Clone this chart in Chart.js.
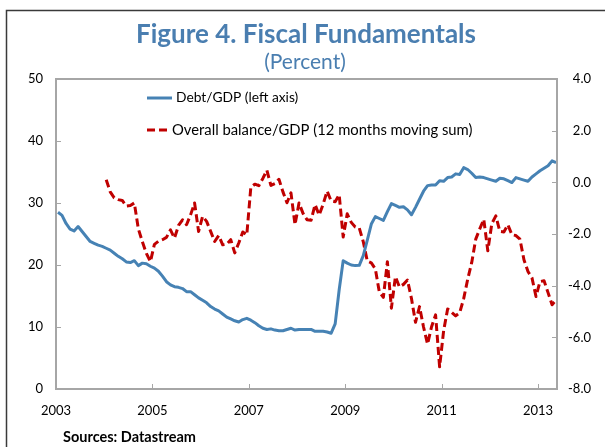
<!DOCTYPE html>
<html>
<head>
<meta charset="utf-8">
<script src="https://cdn.jsdelivr.net/npm/chart.js@4/dist/chart.umd.min.js"></script>
<style>
  html, body { margin: 0; padding: 0; background: #fff; }
  #wrap { width: 605px; height: 447px; position: relative; }
</style>
</head>
<body>
<div id="wrap"><canvas id="c" width="605" height="447"></canvas></div>
<script>
// Monthly series, Debt/GDP from Jan 2003, balance from Jan 2004
const debtStartYear = 2003;
const balanceStartYear = 2004;
const tickYears = [2003, 2005, 2007, 2009, 2011, 2013];
const leftTicks = [0, 10, 20, 30, 40, 50];
const rightTicks = [-8, -6, -4, -2, 0, 2, 4];
const titleText = 'Figure 4. Fiscal Fundamentals';
const subtitleText = '(Percent)';
const sourceText = 'Sources: Datastream';
const debtLabel = 'Debt/GDP (left axis)';
const balanceLabel = 'Overall balance/GDP (12 months moving sum)';

const debtGDP = [
  28.5, 28.0, 26.7, 25.8, 25.5, 26.2, 25.4, 24.6, 23.8, 23.5, 23.2, 23.0,
  22.7, 22.4, 21.9, 21.4, 21.0, 20.5, 20.4, 20.7, 19.9, 20.3, 20.2, 19.8,
  19.5, 19.0, 18.2, 17.3, 16.8, 16.5, 16.4, 16.2, 15.7, 15.7, 15.2, 14.7,
  14.3, 13.9, 13.3, 12.9, 12.6, 12.1, 11.6, 11.3, 11.0, 10.8, 11.2, 11.4,
  11.1, 10.7, 10.2, 9.8, 9.6, 9.7, 9.5, 9.4, 9.4, 9.6, 9.8, 9.5,
  9.6, 9.6, 9.6, 9.6, 9.3, 9.3, 9.3, 9.2, 9.0, 10.5, 16.0, 20.7,
  20.3, 20.0, 19.9, 19.95, 21.5, 24.0, 26.6, 27.8, 27.5, 27.2, 28.6, 29.9,
  29.6, 29.3, 29.4, 28.9, 28.1, 29.3, 30.6, 31.9, 32.8, 32.9, 32.9, 33.6,
  33.5, 34.1, 34.2, 34.7, 34.6, 35.7, 35.4, 34.8, 34.1, 34.2, 34.1, 33.9,
  33.7, 33.5, 34.0, 33.9, 33.6, 33.3, 34.1, 33.9, 33.7, 33.5, 34.2, 34.7,
  35.2, 35.6, 36.0, 36.8, 36.5
];

const balanceGDP = [
  0.10, -0.37, -0.60, -0.67, -0.70, -0.92, -0.90, -0.80, -1.80, -2.30, -2.75, -3.07,
  -2.40, -2.28, -2.22, -2.13, -1.84, -2.16, -1.67, -1.45, -1.64, -1.26, -0.80, -1.90,
  -1.32, -1.51, -1.90, -2.29, -2.06, -2.42, -2.40, -2.22, -2.73, -2.35, -1.92, -2.03,
  -0.20, -0.07, -0.13, 0.15, 0.47, -0.12, -0.05, 0.12, -0.37, -0.79, -0.41, -1.64,
  -0.80, -1.20, -1.45, -1.47, -0.86, -1.27, -0.85, -0.34, -0.72, -0.75, -0.48, -2.12,
  -1.22, -1.55, -1.73, -1.77, -2.30, -3.05, -3.12, -3.35, -4.25, -4.45, -3.07, -4.87,
  -3.65, -4.05, -3.95, -3.78, -4.50, -5.42, -4.81, -5.60, -6.26, -5.59, -5.13, -7.14,
  -5.75, -4.90, -5.03, -5.17, -5.05, -4.50, -3.75, -3.10, -2.20, -1.80, -1.43, -2.65,
  -1.60, -1.30, -1.90, -1.92, -1.64, -2.03, -2.06, -2.20, -3.00, -3.45, -3.70, -4.42,
  -3.84, -3.81, -4.27, -4.74, -4.55
];

// monthly values are placed at mid-month on a year axis
const toPoints = (start, arr) => arr.map((v, i) => ({ x: start + (i + 0.5) / 12, y: v }));

const blue = '#4682B4';
const red = '#C00000';
const titleBlue = '#4A7EB0';
const axisGray = '#A6A6A6';
const font = 'Lato';

const decor = {
  id: 'decor',
  beforeDraw(chart) {
    const ctx = chart.ctx;
    ctx.save();
    ctx.fillStyle = '#fff';
    ctx.fillRect(0, 0, chart.width, chart.height);
    ctx.restore();
  },
  afterDraw(chart) {
    const ctx = chart.ctx;
    const a = chart.chartArea;
    const sx = chart.scales.x, sy = chart.scales.y, sy1 = chart.scales.y1;
    ctx.save();

    // outer frame
    ctx.strokeStyle = '#3a3a3a';
    ctx.lineWidth = 1.5;
    ctx.beginPath();
    ctx.moveTo(6.5, chart.height);
    ctx.lineTo(6.5, 10.5);
    ctx.lineTo(chart.width, 10.5);
    ctx.stroke();

    // plot box
    ctx.strokeStyle = axisGray;
    ctx.lineWidth = 2;
    ctx.strokeRect(a.left, a.top, a.right - a.left, a.bottom - a.top);

    // inward tick marks
    ctx.lineWidth = 1;
    ctx.beginPath();
    leftTicks.forEach(v => {
      const y = Math.round(sy.getPixelForValue(v)) + 0.5;
      ctx.moveTo(a.left, y); ctx.lineTo(a.left + 5, y);
    });
    rightTicks.forEach(v => {
      const y = Math.round(sy1.getPixelForValue(v)) + 0.5;
      ctx.moveTo(a.right, y); ctx.lineTo(a.right - 5, y);
    });
    tickYears.forEach(v => {
      const x = Math.round(sx.getPixelForValue(v)) + 0.5;
      ctx.moveTo(x, a.bottom); ctx.lineTo(x, a.bottom - 5);
    });
    ctx.stroke();

    // right-axis labels, right-aligned
    ctx.fillStyle = '#000';
    ctx.font = `13px ${font}`;
    ctx.textAlign = 'right';
    ctx.textBaseline = 'middle';
    rightTicks.forEach(v => {
      ctx.fillText(v.toFixed(1), 591, sy1.getPixelForValue(v));
    });

    // title and subtitle
    ctx.fillStyle = titleBlue;
    ctx.textAlign = 'center';
    ctx.textBaseline = 'alphabetic';
    ctx.font = `bold 26px ${font}`;
    ctx.fillText(titleText, 306, 43);
    ctx.font = `21px ${font}`;
    ctx.fillText(subtitleText, 305, 69);

    // legend
    ctx.textAlign = 'left';
    ctx.textBaseline = 'middle';
    ctx.lineWidth = 3;
    ctx.strokeStyle = blue;
    ctx.beginPath();
    ctx.moveTo(147, 98); ctx.lineTo(172, 98);
    ctx.stroke();
    ctx.fillStyle = '#000';
    ctx.font = `13.8px ${font}`;
    ctx.fillText(debtLabel, 176, 98);

    ctx.strokeStyle = red;
    ctx.setLineDash([8, 4]);
    ctx.beginPath();
    ctx.moveTo(147, 130); ctx.lineTo(170, 130);
    ctx.stroke();
    ctx.setLineDash([]);
    ctx.font = `14.8px ${font}`;
    ctx.fillText(balanceLabel, 172, 130);

    // source note
    ctx.font = `bold 14.5px ${font}`;
    ctx.fillText(sourceText, 63, 437);
    ctx.restore();
  }
};

new Chart(document.getElementById('c'), {
  type: 'line',
  data: {
    datasets: [
      {
        label: debtLabel,
        data: toPoints(debtStartYear, debtGDP),
        yAxisID: 'y',
        borderColor: blue,
        borderWidth: 3,
        pointRadius: 0,
        tension: 0,
        borderJoinStyle: 'round'
      },
      {
        label: balanceLabel,
        data: toPoints(balanceStartYear, balanceGDP),
        yAxisID: 'y1',
        borderColor: red,
        borderWidth: 3,
        borderDash: [8, 4],
        pointRadius: 0,
        tension: 0,
        borderJoinStyle: 'round'
      }
    ]
  },
  options: {
    responsive: false,
    animation: false,
    devicePixelRatio: 1,
    layout: { padding: { top: 79, left: 0, right: 0, bottom: 0 } },
    plugins: { legend: { display: false }, tooltip: { enabled: false } },
    scales: {
      x: {
        type: 'linear',
        min: 2003,
        max: 2013.394,
        grid: { display: false },
        border: { display: false },
        afterBuildTicks: s => { s.ticks = tickYears.map(v => ({ value: v })); },
        afterFit: s => { s.height = 58; },
        ticks: {
          color: '#000',
          font: { family: font, size: 13 },
          padding: 6,
          maxRotation: 0,
          callback: v => String(v)
        }
      },
      y: {
        position: 'left',
        min: 0,
        max: 50,
        grid: { display: false },
        border: { display: false },
        afterBuildTicks: s => { s.ticks = leftTicks.map(v => ({ value: v })); },
        afterFit: s => { s.width = 56; },
        ticks: {
          color: '#000',
          font: { family: font, size: 13 },
          padding: 5
        }
      },
      y1: {
        position: 'right',
        min: -8,
        max: 4,
        grid: { display: false },
        border: { display: false },
        afterBuildTicks: s => { s.ticks = rightTicks.map(v => ({ value: v })); },
        afterFit: s => { s.width = 48; },
        ticks: { display: false }
      }
    }
  },
  plugins: [decor]
});
</script>
</body>
</html>
